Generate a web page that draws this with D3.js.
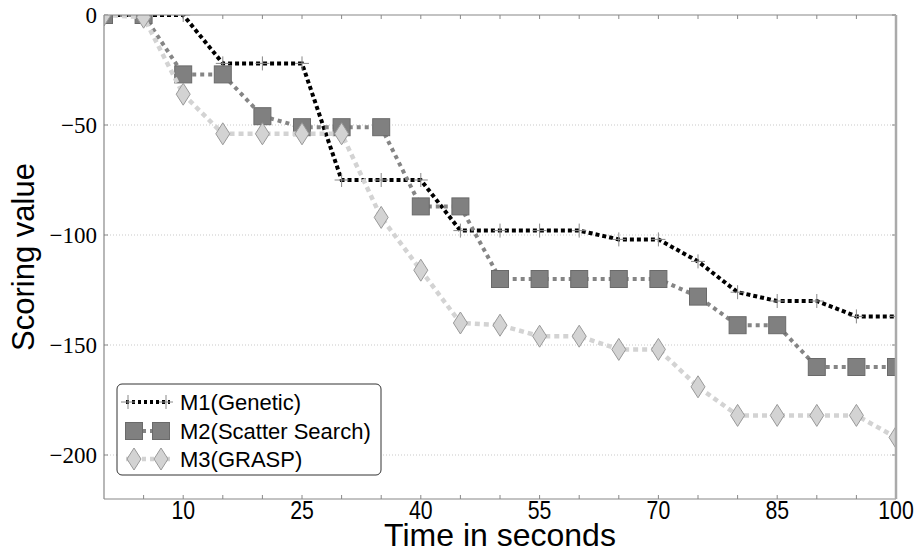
<!DOCTYPE html>
<html><head><meta charset="utf-8">
<script src="https://cdn.jsdelivr.net/npm/d3@7"></script>
<style>body{margin:0;background:#fff}</style>
</head><body>
<svg id="c" width="917" height="554"></svg>
<script>
const times = [0,5,10,15,20,25,30,35,40,45,50,55,60,65,70,75,80,85,90,95,100];
const m1 = [0,0,0,-22,-22,-22,-75,-75,-75,-98,-98,-98,-98,-102,-102,-112,-126,-130,-130,-137,-137];
const m2 = [0,0,-27,-27,-46,-51,-51,-51,-87,-87,-120,-120,-120,-120,-120,-128,-141,-141,-160,-160,-160];
const m3 = [0,-1,-36,-54,-54,-54,-54,-92,-116,-140,-141,-146,-146,-152,-152,-169,-182,-182,-182,-182,-192];
const seriesNames = ["M1(Genetic)","M2(Scatter Search)","M3(GRASP)"];
const xTickLabels = [10,25,40,55,70,85,100];
const yTickLabels = [0,-50,-100,-150,-200];
const xMinorTicks = d3.range(5,100,5);

const svg = d3.select("#c");
const L=104,R=896,T=15,B=499;
const x = d3.scaleLinear().domain([0,100]).range([L,R]);
const y = d3.scaleLinear().domain([-220,0]).range([B,T]);

svg.append("defs").append("clipPath").attr("id","pc").append("rect")
  .attr("x",L).attr("y",T).attr("width",R-L).attr("height",B-T);

// grid
svg.append("g").selectAll("line").data(yTickLabels.filter(d=>d!==0)).join("line")
  .attr("x1",L).attr("x2",R).attr("y1",d=>y(d)).attr("y2",d=>y(d))
  .attr("stroke","#bbb").attr("stroke-width",0.8).attr("stroke-dasharray","1,2");

// ticks top/bottom
const tk = svg.append("g").attr("stroke","#888").attr("stroke-width",1);
xMinorTicks.forEach(t=>{
  tk.append("line").attr("x1",x(t)).attr("x2",x(t)).attr("y1",B).attr("y2",B-4);
  tk.append("line").attr("x1",x(t)).attr("x2",x(t)).attr("y1",T).attr("y2",T+4);
});
yTickLabels.forEach(t=>{
  tk.append("line").attr("x1",L).attr("x2",L+4).attr("y1",y(t)).attr("y2",y(t));
  tk.append("line").attr("x1",R).attr("x2",R-4).attr("y1",y(t)).attr("y2",y(t));
});

const plot = svg.append("g").attr("clip-path","url(#pc)");
const line = d3.line().x((d,i)=>x(times[i])).y(d=>y(d));

const styles = [
  {data:m1, color:"#000", w:4, dash:"4,3"},
  {data:m2, color:"#858585", w:4, dash:"4,4"},
  {data:m3, color:"#d3d3d3", w:4.5, dash:"5,4"}
];
function marker(g, k, cx, cy){
  if(k===0){
    g.append("path").attr("d",`M${cx-7},${cy}H${cx+7}M${cx},${cy-7}V${cy+7}`)
      .attr("stroke","#888").attr("stroke-width",1).attr("fill","none");
  } else if(k===1){
    g.append("rect").attr("x",cx-8.5).attr("y",cy-8.5).attr("width",17).attr("height",17)
      .attr("fill","#808080").attr("stroke","#6a6a6a").attr("stroke-width",1);
  } else {
    g.append("path").attr("d",`M${cx},${cy-11}L${cx+7},${cy}L${cx},${cy+11}L${cx-7},${cy}Z`)
      .attr("fill","#d3d3d3").attr("stroke","#999").attr("stroke-width",1);
  }
}
styles.forEach((s,k)=>{
  plot.append("path").datum(s.data).attr("d",line).attr("fill","none")
    .attr("stroke",s.color).attr("stroke-width",s.w).attr("stroke-dasharray",s.dash);
  const g = plot.append("g");
  s.data.forEach((v,i)=>marker(g,k,x(times[i]),y(v)));
});

// frame
const fr = svg.append("g").attr("fill","none");
fr.append("line").attr("x1",L).attr("x2",R).attr("y1",T).attr("y2",T).attr("stroke","#888").attr("stroke-width",1.2);
fr.append("line").attr("x1",L).attr("x2",R).attr("y1",B).attr("y2",B).attr("stroke","#888").attr("stroke-width",1.2);
fr.append("line").attr("x1",L).attr("x2",L).attr("y1",T).attr("y2",B).attr("stroke","#888").attr("stroke-width",1.2);
fr.append("line").attr("x1",R).attr("x2",R).attr("y1",T).attr("y2",B).attr("stroke","#aaa").attr("stroke-width",2.5);

// tick labels
svg.append("g").selectAll("text").data(xTickLabels).join("text")
  .attr("transform",d=>`translate(${x(d)},519) scale(0.85,1)`)
  .attr("text-anchor","middle").attr("font-family","Liberation Sans, Arial, sans-serif")
  .attr("font-size",25).attr("fill","#000").text(d=>d);
svg.append("g").selectAll("text").data(yTickLabels).join("text")
  .attr("x",97).attr("y",d=>y(d)).attr("dy","0.34em")
  .attr("text-anchor","end").attr("font-family","Liberation Serif, Times New Roman, serif")
  .attr("font-size",23).attr("fill","#000").text(d=>d<0?"\u2212"+Math.abs(d):d);

// axis titles
svg.append("text").attr("x",(L+R)/2).attr("y",546).attr("text-anchor","middle")
  .attr("font-family","Liberation Sans, Arial, sans-serif").attr("font-size",32).text("Time in seconds");
svg.append("text").attr("transform",`translate(34,${(T+B)/2}) rotate(-90)`).attr("text-anchor","middle")
  .attr("font-family","Liberation Sans, Arial, sans-serif").attr("font-size",31).text("Scoring value");

// legend
const lg = svg.append("g");
lg.append("rect").attr("x",117).attr("y",384).attr("width",264).attr("height",91).attr("rx",5)
  .attr("fill","#fff").attr("stroke","#333").attr("stroke-width",1);
const rows=[402,431,459];
styles.forEach((s,k)=>{
  const yy=rows[k];
  lg.append("line").attr("x1",126).attr("x2",170).attr("y1",yy).attr("y2",yy)
    .attr("stroke",s.color).attr("stroke-width",s.w).attr("stroke-dasharray",k===0?"3,3":"4,4");
  marker(lg,k,k===0?128:134,yy);
  marker(lg,k,k===0?166:161,yy);
  lg.append("text").attr("x",180).attr("y",yy).attr("dy","0.36em")
    .attr("font-family","Liberation Sans, Arial, sans-serif").attr("font-size",22).text(seriesNames[k]);
});
</script>
</body></html>
